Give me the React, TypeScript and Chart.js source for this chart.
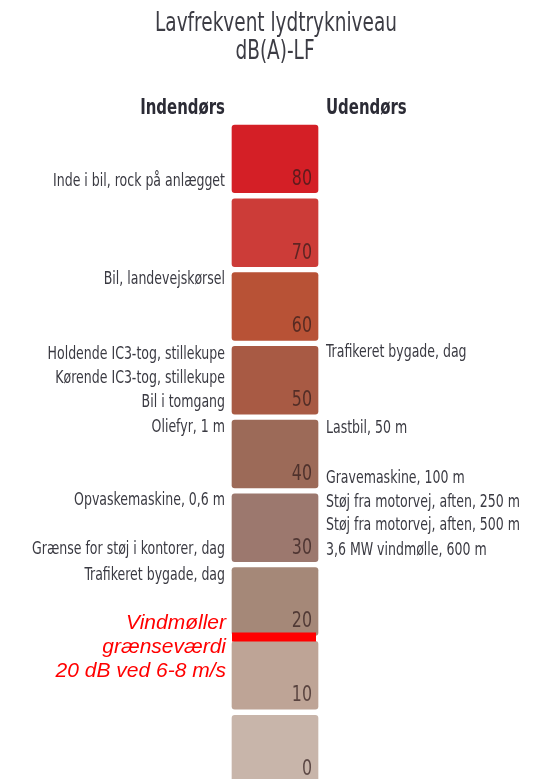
import React, { useEffect, useRef } from "react";
import { Chart, registerables } from "chart.js";

Chart.register(...registerables);

const titleLines = ["Lavfrekvent lydtrykniveau", "dB(A)-LF"];
const indoorHeader = "Indendørs";
const outdoorHeader = "Udendørs";

const scaleTicks = [0, 10, 20, 30, 40, 50, 60, 70, 80];
const blockSpan = 10;
const blockColors = [
  "#c8b5aa",
  "#bea496",
  "#a58878",
  "#9c786e",
  "#9c6a58",
  "#a85a44",
  "#b85236",
  "#cc3c38",
  "#d41f26",
];

const indoorLabels = [
  "Inde i bil, rock på anlægget",
  "Bil, landevejskørsel",
  "Holdende IC3-tog, stillekupe",
  "Kørende IC3-tog, stillekupe",
  "Bil i tomgang",
  "Oliefyr, 1 m",
  "Opvaskemaskine, 0,6 m",
  "Grænse for støj i kontorer, dag",
  "Trafikeret bygade, dag",
];
const indoorValues = [82.2, 68.9, 58.8, 55.5, 52.2, 48.9, 38.9, 32.3, 28.8];

const outdoorLabels = [
  "Trafikeret bygade, dag",
  "Lastbil, 50 m",
  "Gravemaskine, 100 m",
  "Støj fra motorvej, aften, 250 m",
  "Støj fra motorvej, aften, 500 m",
  "3,6 MW vindmølle, 600 m",
];
const outdoorValues = [59.0, 48.7, 41.9, 38.7, 35.6, 32.2];

const windLimit = 20;
const windLimitText = ["Vindmøller", "grænseværdi", "20 dB ved 6-8 m/s"];

const NARROW = "'Liberation Sans Narrow', 'DejaVu Sans Condensed', 'Arial Narrow', sans-serif";

function squeezed(ctx: CanvasRenderingContext2D, text: string, x: number, y: number, sx: number) {
  ctx.save();
  ctx.translate(x, y);
  ctx.scale(sx, 1);
  ctx.fillText(text, 0, 0);
  ctx.restore();
}

const overlayPlugin = {
  id: "overlay",
  afterDatasetsDraw(chart: any) {
    const { ctx, scales } = chart;
    const y = scales.y;
    const bar = chart.getDatasetMeta(0).data[0];
    const right = bar.x + bar.width / 2;
    const left = bar.x - bar.width / 2;
    ctx.save();
    ctx.font = `21px ${NARROW}`;
    ctx.fillStyle = "rgba(45,25,25,0.7)";
    ctx.textAlign = "right";
    ctx.textBaseline = "alphabetic";
    scaleTicks.forEach((t) => {
      squeezed(ctx, String(t), right - 9, y.getPixelForValue(t) - 11, 0.84);
    });
    const ly = y.getPixelForValue(windLimit);
    ctx.strokeStyle = "#ff0000";
    ctx.lineWidth = 9;
    ctx.beginPath();
    ctx.moveTo(left + 3, ly - 1.5);
    ctx.lineTo(right - 5, ly - 1.5);
    ctx.stroke();
    ctx.restore();
  },
  afterDraw(chart: any) {
    const { ctx, scales } = chart;
    const y = scales.y;
    const bar = chart.getDatasetMeta(0).data[0];
    const right = bar.x + bar.width / 2;
    const left = bar.x - bar.width / 2;
    const leftX = left - 4;
    const rightX = right + 5;
    ctx.save();
    ctx.fillStyle = "#3c3c44";
    ctx.textAlign = "center";
    ctx.textBaseline = "alphabetic";
    ctx.font = `26px ${NARROW}`;
    squeezed(ctx, titleLines[0], 276, 31, 0.79);
    squeezed(ctx, titleLines[1], 275, 59, 0.79);
    ctx.fillStyle = "#2b2b35";
    ctx.font = `bold 21px ${NARROW}`;
    ctx.textAlign = "right";
    squeezed(ctx, indoorHeader, leftX, 114, 0.79);
    ctx.textAlign = "left";
    squeezed(ctx, outdoorHeader, rightX, 114, 0.79);
    ctx.fillStyle = "#3a3a42";
    ctx.font = `17px ${NARROW}`;
    ctx.textBaseline = "middle";
    ctx.textAlign = "right";
    indoorLabels.forEach((lab, i) => {
      squeezed(ctx, lab, leftX, y.getPixelForValue(indoorValues[i]) + 2, 0.82);
    });
    ctx.textAlign = "left";
    outdoorLabels.forEach((lab, i) => {
      squeezed(ctx, lab, rightX, y.getPixelForValue(outdoorValues[i]) + 2, 0.82);
    });
    const ly = y.getPixelForValue(windLimit);
    ctx.fillStyle = "#ff0000";
    ctx.font = "italic 21px 'Liberation Sans', Arial, sans-serif";
    ctx.textAlign = "right";
    ctx.textBaseline = "alphabetic";
    windLimitText.forEach((line, i) => {
      ctx.fillText(line, leftX + 1, ly - 9 + i * 24);
    });
    ctx.restore();
  },
};

export default function App() {
  const ref = useRef<HTMLCanvasElement>(null);
  useEffect(() => {
    if (!ref.current) return;
    const chart = new Chart(ref.current, {
      type: "bar",
      data: {
        labels: [""],
        datasets: scaleTicks.map((t, i) => ({
          label: String(t),
          data: [[t, t + blockSpan]] as any,
          backgroundColor: blockColors[i],
          borderColor: "#ffffff",
          borderWidth: 3,
          borderSkipped: false,
          borderRadius: 6,
          grouped: false,
          barPercentage: 1,
          categoryPercentage: 1,
        })),
      },
      options: {
        animation: false,
        responsive: false,
        maintainAspectRatio: false,
        layout: { padding: { top: 122, bottom: 4, left: 229, right: 219 } },
        scales: {
          x: { display: false },
          y: { display: false, min: 0, max: 90 },
        },
        plugins: {
          legend: { display: false },
          tooltip: { enabled: false },
        },
      },
      plugins: [overlayPlugin],
    });
    return () => chart.destroy();
  }, []);
  return (
    <div
      style={{
        position: "absolute",
        left: 0,
        top: 0,
        width: 540,
        height: 779,
        overflow: "hidden",
        background: "#fff",
      }}
    >
      <canvas ref={ref} width={540} height={790} style={{ display: "block" }} />
    </div>
  );
}
